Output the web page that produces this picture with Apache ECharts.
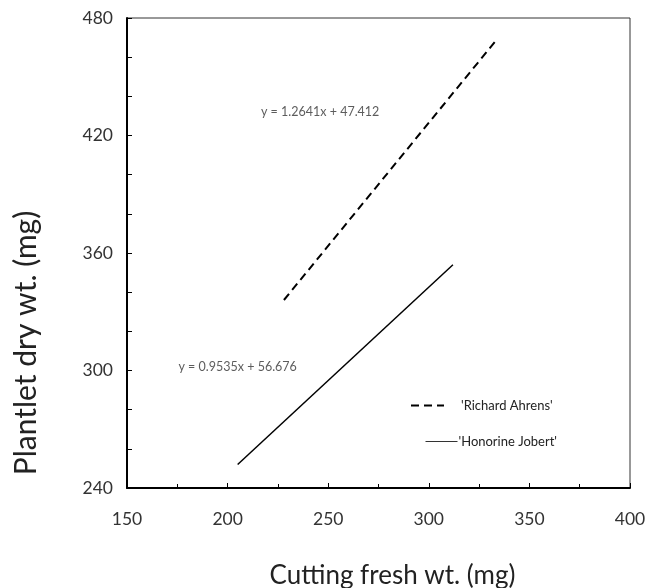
<!DOCTYPE html>
<html>
<head>
<meta charset="utf-8">
<script src="https://cdn.jsdelivr.net/npm/echarts@6/dist/echarts.min.js"></script>
<style>
  html, body { margin: 0; padding: 0; background: #fff; }
  #chart { width: 648px; height: 588px; }
</style>
</head>
<body>
<div id="chart"></div>
<script>
  // fitted lines at their two ends
  var richard = [[228, 336], [333, 468]];
  var honorine = [[205, 252], [312, 354]];
  // regression equations and where they sit (data coords)
  var eqText = ['y = 1.2641x + 47.412', 'y = 0.9535x + 56.676'];
  var eqPos = [[246, 432], [205, 302]];
  var seriesNames = ["'Richard Ahrens'", "'Honorine Jobert'"];

  var font = 'Lato';
  var myChart = echarts.init(document.getElementById('chart'));

  var option = {
    animation: false,
    grid: {
      left: 127, right: 18, top: 18, bottom: 100,
      outerBoundsMode: 'none',
      containLabel: false,
      show: true,
      borderColor: '#333',
      borderWidth: 1
    },
    legend: [
      {
        data: [seriesNames[0]],
        left: 405, top: 394,
        itemWidth: 33, itemHeight: 14,
        itemStyle: { opacity: 0 },
        textStyle: { fontFamily: font, fontSize: 13, color: '#222', padding: [0, 0, 0, 12] }
      },
      {
        data: [seriesNames[1]],
        left: 420, top: 430,
        itemWidth: 32, itemHeight: 14,
        itemStyle: { opacity: 0 },
        lineStyle: { width: 1, color: '#333' },
        textStyle: { fontFamily: font, fontSize: 13, color: '#222', padding: [0, 0, 0, -4] }
      }
    ],
    xAxis: {
      type: 'value',
      min: 150, max: 400, interval: 50,
      name: 'Cutting fresh wt. (mg)',
      nameLocation: 'middle',
      nameGap: 75,
      nameTextStyle: { fontFamily: font, fontSize: 26, color: '#222', padding: [0, 0, 0, 28] },
      axisLine: { lineStyle: { color: '#000', width: 2 } },
      axisTick: { inside: true, length: 5, lineStyle: { color: '#000', width: 1 } },
      minorTick: { show: true, splitNumber: 2, length: 4, lineStyle: { color: '#000', width: 1 } },
      axisLabel: { fontFamily: font, fontSize: 17.5, color: '#333', margin: 22 },
      splitLine: { show: false }
    },
    yAxis: {
      type: 'value',
      min: 240, max: 480, interval: 60,
      name: 'Plantlet dry wt. (mg)',
      nameLocation: 'middle',
      nameGap: 86,
      nameTextStyle: { fontFamily: font, fontSize: 30, color: '#222', padding: [0, 180, 0, 0] },
      axisLine: { lineStyle: { color: '#000', width: 2 } },
      axisTick: { inside: true, length: 5, lineStyle: { color: '#000', width: 1 } },
      minorTick: { show: true, splitNumber: 3, length: 5, lineStyle: { color: '#000', width: 1 } },
      axisLabel: { fontFamily: font, fontSize: 17.5, color: '#333', margin: 14 },
      splitLine: { show: false }
    },
    series: [
      {
        name: seriesNames[0],
        type: 'line',
        data: richard,
        symbol: 'none',
        lineStyle: { color: '#000', width: 2, type: [8, 5] },
        itemStyle: { color: '#000' }
      },
      {
        name: seriesNames[1],
        type: 'line',
        data: honorine,
        symbol: 'none',
        lineStyle: { color: '#000', width: 1.5 },
        itemStyle: { color: '#000' }
      },
      {
        type: 'scatter',
        symbolSize: 0,
        silent: true,
        data: eqPos.map(function (p, i) { return { value: p, eq: eqText[i] }; }),
        label: {
          show: true,
          position: 'inside',
          fontFamily: font,
          fontSize: 12.5,
          color: '#333',
          formatter: function (p) { return p.data.eq; }
        }
      }
    ]
  };
  myChart.setOption(option);
</script>
</body>
</html>
